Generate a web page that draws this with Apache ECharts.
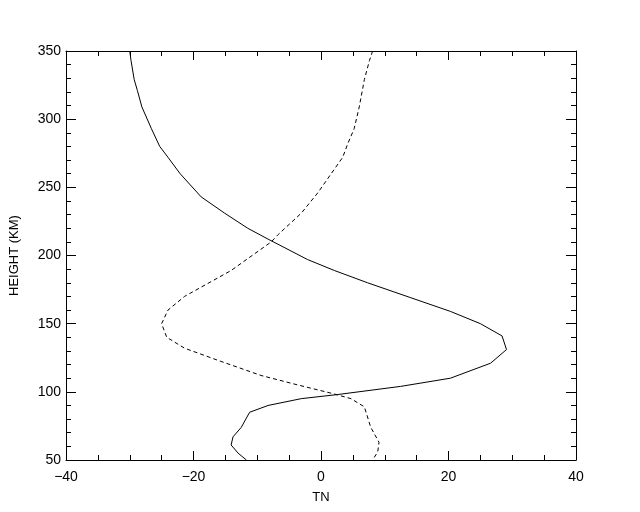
<!DOCTYPE html>
<html>
<head>
<meta charset="utf-8">
<script src="https://cdn.jsdelivr.net/npm/echarts@6/dist/echarts.min.js"></script>
<style>html,body{margin:0;padding:0;background:#fff;}#c{width:640px;height:512px;}</style>
</head>
<body>
<div id="c"></div>
<script>
const solidHeights = [350,343,329,321,309,293,280,272,260,243,231,220,212,197,189,180,169,159,150,141,131,121,110,104,98,95,90,85,74,67,61,55,50];
const solidTN = [-30.0,-29.8,-29.3,-28.8,-28.1,-26.6,-25.3,-24.0,-22.1,-18.8,-15.1,-11.5,-8.3,-2.1,2.1,7.3,14.1,20.3,25.0,28.4,29.1,26.6,20.3,12.5,2.6,-3.1,-8.3,-11.2,-12.5,-13.8,-14.1,-13.0,-11.7];
const dashHeights = [350,343,329,309,293,282,272,260,246,231,215,210,189,170,160,150,140,132,123,112,105,99,95,89,74,63,56,50];
const dashTN = [8.1,7.6,6.8,6.0,5.2,4.2,3.4,1.6,-0.5,-3.1,-6.8,-7.8,-14.1,-21.4,-24.0,-25.0,-24.2,-21.4,-16.1,-9.4,-3.6,1.6,4.7,6.8,7.8,9.1,8.9,8.1];
const xTicks = [-40,-20,0,20,40];
const yTicks = [50,100,150,200,250,300,350];

const font = 'Liberation Sans, Arial, sans-serif';
const pair = (xs, ys) => xs.map((x, i) => [x, ys[i]]);
const minus = v => String(v).replace('-', '\u2212');

function xAx(show, pos) {
  return {
    type: 'value', position: pos, min: xTicks[0], max: xTicks[xTicks.length-1], interval: 20,
    axisLine: {show: true, onZero: false, lineStyle: {color: '#000', width: 1}},
    axisTick: {show: true, inside: true, length: 9, lineStyle: {color: '#000'}},
    minorTick: {show: true, splitNumber: 4, length: 5, lineStyle: {color: '#000'}},
    splitLine: {show: false},
    axisLabel: {show: show, color: '#000', fontSize: 14, fontFamily: font, margin: 10, formatter: minus},
    name: show ? 'TN' : '', nameLocation: 'middle', nameGap: 31,
    nameTextStyle: {color: '#000', fontSize: 13, fontFamily: font}
  };
}
function yAx(show, pos) {
  return {
    type: 'value', position: pos, min: yTicks[0], max: yTicks[yTicks.length-1], interval: 50,
    axisLine: {show: true, onZero: false, lineStyle: {color: '#000', width: 1}},
    axisTick: {show: true, inside: true, length: 10, lineStyle: {color: '#000'}},
    minorTick: {show: true, splitNumber: 5, length: 5, lineStyle: {color: '#000'}},
    splitLine: {show: false},
    axisLabel: {show: show, color: '#000', fontSize: 14, fontFamily: font, margin: 5},
    name: show ? 'HEIGHT (KM)' : '', nameLocation: 'middle', nameGap: 45, nameRotate: 90,
    nameTextStyle: {color: '#000', fontSize: 13, fontFamily: font}
  };
}

const chart = echarts.init(document.getElementById('c'), null, {renderer: 'canvas'});
chart.setOption({
  animation: false,
  backgroundColor: '#fff',
  grid: {left: 64, right: 64, top: 51, bottom: 52, containLabel: false},
  xAxis: [xAx(true, 'bottom'), xAx(false, 'top')],
  yAxis: [yAx(true, 'left'), yAx(false, 'right')],
  series: [
    {type: 'line', xAxisIndex: 0, yAxisIndex: 0, data: pair(solidTN, solidHeights), showSymbol: false, symbol: 'none',
     lineStyle: {color: '#000', width: 1, type: 'solid'}},
    {type: 'line', xAxisIndex: 0, yAxisIndex: 0, data: pair(dashTN, dashHeights), showSymbol: false, symbol: 'none',
     lineStyle: {color: '#000', width: 1, type: [4, 3]}}
  ]
});
</script>
</body>
</html>
